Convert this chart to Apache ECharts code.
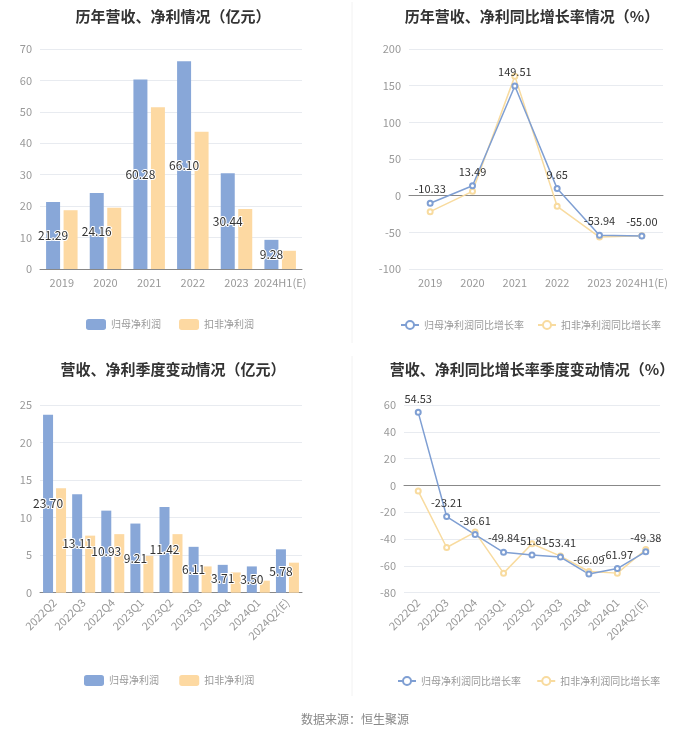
<!DOCTYPE html>
<html>
<head>
<meta charset="utf-8">
<script src="https://cdn.jsdelivr.net/npm/echarts@6/dist/echarts.min.js"></script>
<style>
html,body{margin:0;padding:0;background:#fff;}
#main{width:700px;height:734px;}
</style>
</head>
<body>
<div id="main"></div>
<script>
// Data
var yearCats = ['2019','2020','2021','2022','2023','2024H1(E)'];
var yearNetProfit = [21.29, 24.16, 60.28, 66.10, 30.44, 9.28];
var yearDeductProfit = [18.7, 19.5, 51.5, 43.7, 19.1, 5.8];
var yearNetGrowth = [-10.33, 13.49, 149.51, 9.65, -53.94, -55.00];
var yearDeductGrowth = [-21.8, 5.9, 163.0, -14.5, -56.4, -54.5];

var qCats = ['2022Q2','2022Q3','2022Q4','2023Q1','2023Q2','2023Q3','2023Q4','2024Q1','2024Q2(E)'];
var qNetProfit = [23.70, 13.11, 10.93, 9.21, 11.42, 6.11, 3.71, 3.50, 5.78];
var qDeductProfit = [13.9, 7.6, 7.8, 4.9, 7.8, 3.5, 2.7, 1.6, 4.0];
var qNetGrowth = [54.53, -23.21, -36.61, -49.84, -51.81, -53.41, -66.09, -61.97, -49.38];
var qDeductGrowth = [-4.2, -46.3, -34.8, -65.4, -43.5, -52.7, -64.2, -65.4, -47.8];

var BLUE = '#88a7d8';
var ORANGE = '#fdd9a2';
var LBLUE = '#7f9fd3';
var LORANGE = '#f8db9f';
var FONT = '"Noto Sans CJK SC", "Noto Sans", sans-serif';

var chart = echarts.init(document.getElementById('main'));

function titleAt(text, cx, top) {
  return {text: text, left: cx, top: top, textAlign: 'center',
    textStyle: {fontSize: 15, fontWeight: 'bold', color: '#333', fontFamily: FONT}};
}
function catAxis(gi, data, rotate) {
  return {type: 'category', gridIndex: gi, data: data, boundaryGap: true,
    axisLine: {lineStyle: {color: '#888'}},
    axisTick: {alignWithLabel: true, lineStyle: {color: '#888'}},
    axisLabel: {color: '#999', fontSize: 11, rotate: rotate, interval: 0, margin: 8, fontFamily: FONT}};
}
function valAxis(gi, min, max, interval) {
  return {type: 'value', gridIndex: gi, min: min, max: max, interval: interval,
    axisLine: {show: false}, axisTick: {show: false},
    splitLine: {lineStyle: {color: '#e8ebf0'}},
    axisLabel: {color: '#999', fontSize: 11, fontFamily: FONT}};
}
function barLabel() {
  return {show: true, position: 'inside', color: '#333', fontSize: 12,
    textBorderColor: '#fff', textBorderWidth: 2, fontFamily: FONT,
    formatter: function(p){ return p.value.toFixed(2); }};
}
function lineLabel() {
  return {show: true, position: 'top', color: '#333', fontSize: 11, fontFamily: FONT,
    formatter: function(p){ return p.value.toFixed(2); }};
}
var legText = {color: '#999', fontSize: 10, fontFamily: FONT};

var option = {
  backgroundColor: '#fff',
  animation: false,
  title: [
    titleAt('历年营收、净利情况（亿元）', 168, 4),
    titleAt('历年营收、净利同比增长率情况（%）', 527, 4),
    titleAt('营收、净利季度变动情况（亿元）', 168, 357),
    titleAt('营收、净利同比增长率季度变动情况（%）', 527, 357),
    {text: '数据来源：恒生聚源', left: 350, top: 708, textAlign: 'center',
      textStyle: {fontSize: 12, fontWeight: 'normal', color: '#888', fontFamily: FONT}}
  ],
  legend: [
    {left: 90, top: 314, itemWidth: 20, itemHeight: 11, itemGap: 18, icon: 'roundRect',
      data: ['归母净利润', '扣非净利润'], textStyle: legText, selectedMode: false},
    {left: 400, top: 315, itemWidth: 18, itemHeight: 10, itemGap: 13,
      data: ['归母净利润同比增长率', '扣非净利润同比增长率'], textStyle: legText, selectedMode: false},
    {left: 90, top: 670, itemWidth: 20, itemHeight: 11, itemGap: 18, icon: 'roundRect',
      data: ['归母净利润 ', '扣非净利润 '], textStyle: legText, selectedMode: false},
    {left: 400, top: 671, itemWidth: 18, itemHeight: 10, itemGap: 13,
      data: ['归母净利润同比增长率 ', '扣非净利润同比增长率 '], textStyle: legText, selectedMode: false}
  ],
  grid: [
    {left: 40, top: 49, width: 262, height: 220},
    {left: 409, top: 49, width: 254, height: 220},
    {left: 40, top: 405, width: 262, height: 187.7},
    {left: 404, top: 405, width: 256, height: 187.7}
  ],
  xAxis: [
    catAxis(0, yearCats, 0),
    catAxis(1, yearCats, 0),
    catAxis(2, qCats, 45),
    catAxis(3, qCats, 45)
  ],
  yAxis: [
    valAxis(0, 0, 70, 10),
    valAxis(1, -100, 200, 50),
    valAxis(2, 0, 25, 5),
    valAxis(3, -80, 60, 20)
  ],
  series: [
    {name: '归母净利润', type: 'bar', xAxisIndex: 0, yAxisIndex: 0, data: yearNetProfit,
      barWidth: 14, barGap: '25%', itemStyle: {color: BLUE}, label: barLabel(), z: 2},
    {name: '扣非净利润', type: 'bar', xAxisIndex: 0, yAxisIndex: 0, data: yearDeductProfit,
      barWidth: 14, barGap: '25%', itemStyle: {color: ORANGE}},
    {name: '扣非净利润同比增长率', type: 'line', xAxisIndex: 1, yAxisIndex: 1, data: yearDeductGrowth,
      symbol: 'emptyCircle', symbolSize: 5, itemStyle: {color: LORANGE}, lineStyle: {color: LORANGE, width: 1.5}},
    {name: '归母净利润同比增长率', type: 'line', xAxisIndex: 1, yAxisIndex: 1, data: yearNetGrowth,
      symbol: 'emptyCircle', symbolSize: 5, itemStyle: {color: LBLUE}, lineStyle: {color: LBLUE, width: 1.5},
      label: lineLabel(), z: 3},
    {name: '归母净利润 ', type: 'bar', xAxisIndex: 2, yAxisIndex: 2, data: qNetProfit,
      barWidth: 10, barGap: '30%', itemStyle: {color: BLUE}, label: barLabel(), z: 2},
    {name: '扣非净利润 ', type: 'bar', xAxisIndex: 2, yAxisIndex: 2, data: qDeductProfit,
      barWidth: 10, barGap: '30%', itemStyle: {color: ORANGE}},
    {name: '扣非净利润同比增长率 ', type: 'line', xAxisIndex: 3, yAxisIndex: 3, data: qDeductGrowth,
      symbol: 'emptyCircle', symbolSize: 5, itemStyle: {color: LORANGE}, lineStyle: {color: LORANGE, width: 1.5}},
    {name: '归母净利润同比增长率 ', type: 'line', xAxisIndex: 3, yAxisIndex: 3, data: qNetGrowth,
      symbol: 'emptyCircle', symbolSize: 5, itemStyle: {color: LBLUE}, lineStyle: {color: LBLUE, width: 1.5},
      label: lineLabel(), z: 3}
  ],
  graphic: [
    {type: 'line', shape: {x1: 352, y1: 2, x2: 352, y2: 343}, style: {stroke: '#f2f2f2', lineWidth: 1}},
    {type: 'line', shape: {x1: 352, y1: 356, x2: 352, y2: 696}, style: {stroke: '#f2f2f2', lineWidth: 1}}
  ]
};
chart.setOption(option);
// center legends at target x
var legendCenters = [170, 530, 170, 530];
var model = chart.getModel();
var newLegends = legendCenters.map(function(cx, i){
  var view = chart.getViewOfComponentModel(model.getComponent('legend', i));
  var rect = view.group.getBoundingRect();
  return {left: Math.round(cx - rect.width / 2)};
});
chart.setOption({legend: newLegends});
</script>
</body>
</html>
